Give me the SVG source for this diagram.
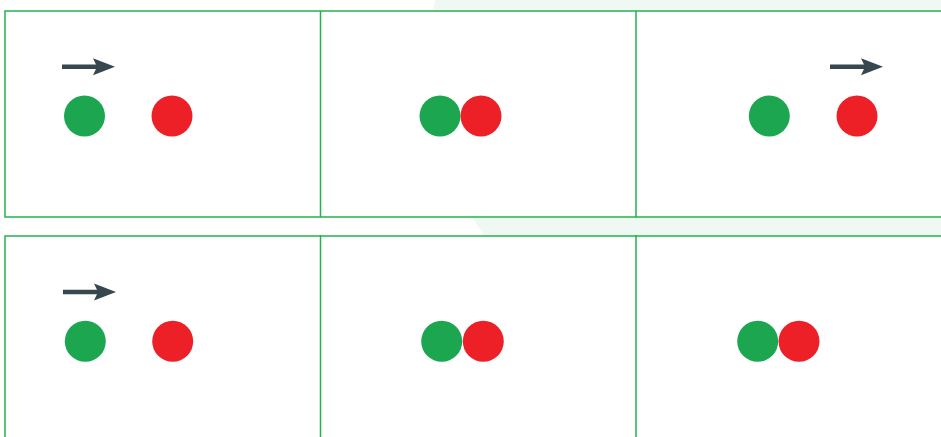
<svg xmlns="http://www.w3.org/2000/svg" width="941" height="437" viewBox="0 0 941 437">
<style>
.panel{fill:#ffffff;stroke:#22b24c;stroke-width:1.5}
.div{stroke:#22b24c;stroke-width:1.5}
.g{fill:#1ca650}
.r{fill:#ed2027}
.arr{stroke:#37474f;stroke-width:4.5;fill:none}
.head{fill:#37474f}
</style>
<defs>
<g id="arrow"><line class="arr" x1="0" y1="0" x2="36" y2="0"/><polygon class="head" points="31,-8.5 53,0 31,8.5 35,0"/></g>
</defs>
<rect x="0" y="0" width="941" height="437" fill="#ffffff"/>
<polygon points="435,0 941,0 941,240 487,240 470,214 433,11" fill="#eff8f2"/>
<g id="row1">
<rect class="panel" x="5" y="11" width="945" height="206"/>
<line class="div" x1="320.5" y1="11" x2="320.5" y2="217"/>
<line class="div" x1="636" y1="11" x2="636" y2="217"/>
</g>
<g id="row2">
<rect class="panel" x="5" y="236" width="945" height="210"/>
<line class="div" x1="320.5" y1="235" x2="320.5" y2="437"/>
<line class="div" x1="636" y1="235" x2="636" y2="437"/>
</g>
<g id="p1"><use href="#arrow" x="62" y="66.7"/><circle class="g" cx="84.5" cy="116" r="20.5"/><circle class="r" cx="172" cy="116" r="20.5"/></g>
<g id="p2"><circle class="g" cx="440" cy="116" r="20.5"/><circle class="r" cx="481" cy="116" r="20.5"/></g>
<g id="p3"><use href="#arrow" x="830" y="66.7"/><circle class="g" cx="769.3" cy="116" r="20.5"/><circle class="r" cx="857" cy="116" r="20.5"/></g>
<g id="p4"><use href="#arrow" x="63" y="292"/><circle class="g" cx="85.3" cy="341.3" r="20.5"/><circle class="r" cx="172.7" cy="341.3" r="20.5"/></g>
<g id="p5"><circle class="g" cx="441.7" cy="341.3" r="20.5"/><circle class="r" cx="483.3" cy="341.3" r="20.5"/></g>
<g id="p6"><circle class="g" cx="757.7" cy="341.3" r="20.5"/><circle class="r" cx="799" cy="341.3" r="20.5"/></g>
<g id="connectors"></g>
</svg>
